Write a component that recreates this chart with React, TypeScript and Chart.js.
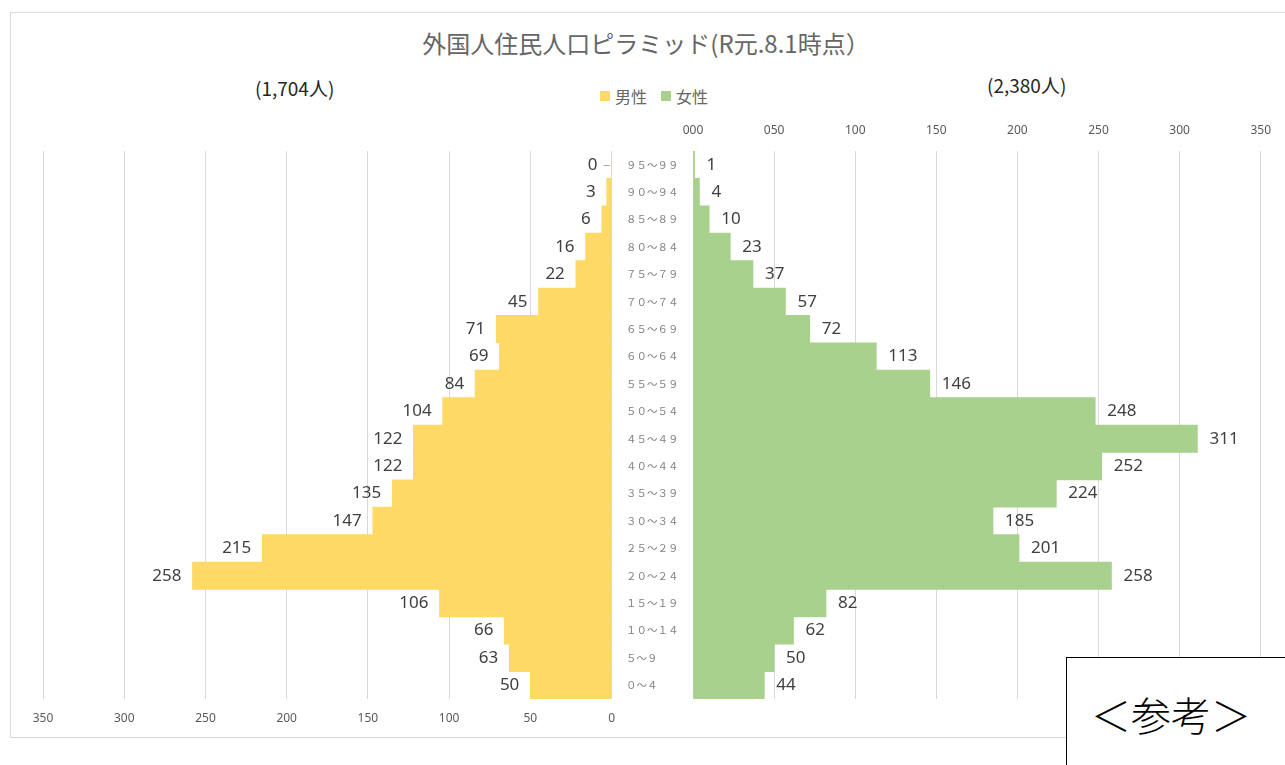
import React, { useEffect, useRef } from "react";
import { Chart, registerables } from "chart.js";

Chart.register(...registerables);

const ageGroups = [
  "９５～９９", "９０～９４", "８５～８９", "８０～８４", "７５～７９",
  "７０～７４", "６５～６９", "６０～６４", "５５～５９", "５０～５４",
  "４５～４９", "４０～４４", "３５～３９", "３０～３４", "２５～２９",
  "２０～２４", "１５～１９", "１０～１４", "５～９", "０～４",
];
const maleValues = [0, 3, 6, 16, 22, 45, 71, 69, 84, 104, 122, 122, 135, 147, 215, 258, 106, 66, 63, 50];
const femaleValues = [1, 4, 10, 23, 37, 57, 72, 113, 146, 248, 311, 252, 224, 185, 201, 258, 82, 62, 50, 44];
const axisMax = 350;
const axisStep = 50;
const maleTotal = "(1,704人)";
const femaleTotal = "(2,380人)";
const titleText = "外国人住民人口ピラミッド(R元.8.1時点）";
const maleName = "男性";
const femaleName = "女性";

const MALE_COLOR = "#FFD966";
const FEMALE_COLOR = "#A9D18E";
const GRID = "#d9d9d9";
const CJK = '"Noto Sans CJK JP", "Noto Sans", sans-serif';

const valueLabels = (side: "left" | "right") => ({
  id: "valueLabels" + side,
  afterDatasetsDraw(chart: any) {
    const ctx = chart.ctx;
    const meta = chart.getDatasetMeta(0);
    const data = chart.data.datasets[0].data as number[];
    ctx.save();
    ctx.font = '17px "Noto Sans", sans-serif';
    ctx.fillStyle = "#404040";
    ctx.textBaseline = "middle";
    meta.data.forEach((bar: any, i: number) => {
      const text = String(data[i]);
      if (side === "left") {
        ctx.textAlign = "right";
        if (data[i] === 0) {
          ctx.save();
          ctx.strokeStyle = "#a6a6a6";
          ctx.lineWidth = 1;
          ctx.beginPath();
          ctx.moveTo(bar.x - 8, Math.round(bar.y) + 0.5);
          ctx.lineTo(bar.x - 2, Math.round(bar.y) + 0.5);
          ctx.stroke();
          ctx.restore();
          ctx.fillText(text, bar.x - 14, bar.y);
        } else {
          ctx.fillText(text, bar.x - 11, bar.y);
        }
      } else {
        ctx.textAlign = "left";
        ctx.fillText(text, bar.x + 12, bar.y);
      }
    });
    ctx.restore();
  },
});

export default function App() {
  const maleRef = useRef<HTMLCanvasElement>(null);
  const femaleRef = useRef<HTMLCanvasElement>(null);

  useEffect(() => {
    const male = new Chart(maleRef.current!, {
      type: "bar",
      data: {
        labels: ageGroups,
        datasets: [
          {
            label: maleName,
            data: maleValues,
            backgroundColor: MALE_COLOR,
            barPercentage: 1,
            categoryPercentage: 1,
          },
        ],
      },
      options: {
        indexAxis: "y",
        responsive: false,
        animation: false,
        devicePixelRatio: 1,
        layout: { padding: { left: 30, right: 10, top: 10, bottom: 5.6 } },
        plugins: { legend: { display: false }, tooltip: { enabled: false }, title: { display: false } },
        scales: {
          x: {
            type: "linear",
            position: "bottom",
            reverse: true,
            min: 0,
            max: axisMax,
            ticks: {
              stepSize: axisStep,
              padding: 12,
              color: "#595959",
              font: { family: '"Noto Sans", sans-serif', size: 12 },
            },
            grid: { color: GRID, drawTicks: false },
            border: { display: false },
          },
          y: { type: "category", display: false },
        },
      },
      plugins: [valueLabels("left")],
    });

    const female = new Chart(femaleRef.current!, {
      type: "bar",
      data: {
        labels: ageGroups,
        datasets: [
          {
            label: femaleName,
            data: femaleValues,
            backgroundColor: FEMALE_COLOR,
            barPercentage: 1,
            categoryPercentage: 1,
          },
        ],
      },
      options: {
        indexAxis: "y",
        responsive: false,
        animation: false,
        devicePixelRatio: 1,
        layout: { padding: { left: 0, right: 20, top: 5.6, bottom: 10 } },
        plugins: { legend: { display: false }, tooltip: { enabled: false }, title: { display: false } },
        scales: {
          x: {
            type: "linear",
            position: "top",
            min: 0,
            max: axisMax,
            ticks: {
              stepSize: axisStep,
              padding: 13,
              color: "#595959",
              font: { family: '"Noto Sans", sans-serif', size: 12 },
              callback: (v: any) => String(v).padStart(3, "0"),
            },
            grid: { color: GRID, drawTicks: false },
            border: { display: false },
          },
          y: {
            type: "category",
            position: "left",
            afterFit: (scale: any) => {
              scale.width = 67;
            },
            ticks: {
              crossAlign: "far",
              padding: 0,
              color: "#808080",
              font: { family: CJK, size: 10.5 },
            },
            grid: { display: false },
            border: { display: false },
          },
        },
      },
      plugins: [valueLabels("right")],
    });

    return () => {
      male.destroy();
      female.destroy();
    };
  }, []);

  const abs = (s: React.CSSProperties): React.CSSProperties => ({ position: "absolute", ...s });

  return (
    <div style={{ position: "fixed", left: 0, top: 0, width: 1285, height: 765, background: "#fff", overflow: "hidden", fontFamily: CJK }}>
      <div style={abs({ left: 10, top: 12, width: 1290, height: 726, border: `1px solid ${GRID}`, boxSizing: "border-box" })} />
      <div style={abs({ left: 6, top: 27, width: 1280, textAlign: "center", fontSize: 24, color: "#666666", lineHeight: "32px", whiteSpace: "nowrap" })}>
        {titleText}
      </div>
      <div style={abs({ left: 600, top: 85, height: 22, display: "flex", alignItems: "center", fontSize: 16, color: "#666666", whiteSpace: "nowrap" })}>
        <span style={{ display: "inline-block", width: 10, height: 10, background: MALE_COLOR, marginRight: 5 }} />
        <span>{maleName}</span>
        <span style={{ display: "inline-block", width: 10, height: 10, background: FEMALE_COLOR, marginLeft: 14, marginRight: 5 }} />
        <span>{femaleName}</span>
      </div>
      <div style={abs({ left: 255, top: 75, fontSize: 19, color: "#262626", lineHeight: "26px", whiteSpace: "nowrap" })}>{maleTotal}</div>
      <div style={abs({ left: 987, top: 72, fontSize: 19, color: "#262626", lineHeight: "26px", whiteSpace: "nowrap" })}>{femaleTotal}</div>
      <canvas ref={maleRef} width={614} height={602} style={abs({ left: 13, top: 141 })} />
      <canvas ref={femaleRef} width={658} height={604} style={abs({ left: 626, top: 105 })} />
      <div style={abs({ left: 1066, top: 657, width: 260, height: 140, border: "1px solid #000", background: "#fff", boxSizing: "border-box" })}>
        <div style={abs({ left: 24, top: 31, fontSize: 40, lineHeight: "50px", color: "#000", whiteSpace: "nowrap", fontWeight: 300 })}>＜参考＞</div>
      </div>
    </div>
  );
}
